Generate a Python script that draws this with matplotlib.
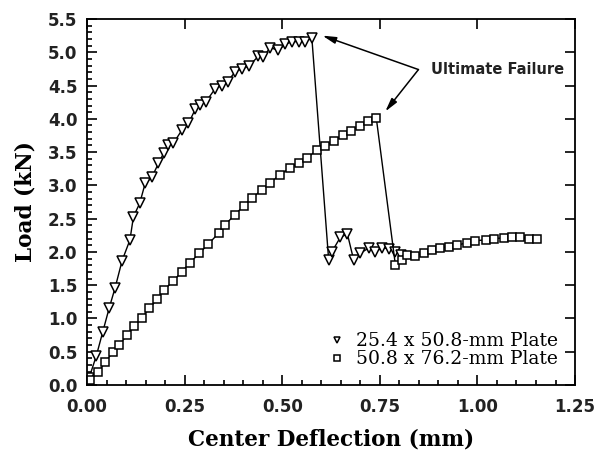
import matplotlib.pyplot as plt
from matplotlib.ticker import MultipleLocator

# 25.4 x 50.8-mm plate
x_tri = [0.005, 0.024, 0.040, 0.057, 0.072, 0.090, 0.110, 0.119, 0.135, 0.149,
         0.166, 0.183, 0.196, 0.208, 0.221, 0.243, 0.260, 0.277, 0.290, 0.305,
         0.328, 0.345, 0.360, 0.380, 0.397, 0.414, 0.439, 0.452, 0.469, 0.490,
         0.508, 0.525, 0.542, 0.559, 0.576, 0.619, 0.627, 0.649, 0.667, 0.683,
         0.700, 0.722, 0.738, 0.756, 0.773, 0.790, 0.803]
y_tri = [0.10, 0.44, 0.79, 1.16, 1.46, 1.87, 2.18, 2.53, 2.73, 3.03,
         3.12, 3.33, 3.48, 3.61, 3.63, 3.83, 3.93, 4.14, 4.21, 4.26,
         4.45, 4.50, 4.56, 4.71, 4.75, 4.79, 4.94, 4.93, 5.07, 5.03,
         5.12, 5.16, 5.16, 5.16, 5.21, 1.88, 2.00, 2.22, 2.27, 1.88,
         1.98, 2.06, 2.00, 2.06, 2.05, 2.00, 1.96]

# 50.8 x 76.2-mm plate
x_sq = [0.008, 0.029, 0.046, 0.066, 0.083, 0.102, 0.121, 0.140, 0.160, 0.179,
        0.198, 0.220, 0.243, 0.264, 0.288, 0.311, 0.337, 0.354, 0.379, 0.401,
        0.422, 0.448, 0.469, 0.495, 0.519, 0.542, 0.563, 0.589, 0.610, 0.633,
        0.656, 0.676, 0.698, 0.720, 0.741, 0.790, 0.807, 0.820, 0.841, 0.863,
        0.884, 0.905, 0.927, 0.948, 0.974, 0.995, 1.021, 1.042, 1.067, 1.089,
        1.110, 1.132, 1.153]
y_sq = [0.08, 0.19, 0.34, 0.49, 0.60, 0.75, 0.88, 1.01, 1.15, 1.29,
        1.43, 1.56, 1.70, 1.84, 1.98, 2.12, 2.28, 2.41, 2.56, 2.69,
        2.81, 2.93, 3.04, 3.16, 3.26, 3.34, 3.41, 3.53, 3.59, 3.67,
        3.76, 3.82, 3.89, 3.96, 4.01, 1.80, 1.88, 1.95, 1.94, 1.99,
        2.03, 2.06, 2.08, 2.10, 2.14, 2.17, 2.18, 2.20, 2.21, 2.22,
        2.23, 2.19, 2.20]

fig = plt.figure(figsize=(5.97, 4.51), dpi=100)
ax = fig.add_axes([0.1457, 0.1463, 0.8175, 0.8116])

ax.plot(x_tri, y_tri, color="black", lw=1.0, marker="v", ms=6.5,
        mfc="white", mec="black", mew=1.1, label="25.4 x 50.8-mm Plate")
ax.plot(x_sq, y_sq, color="black", lw=1.0, marker="s", ms=6,
        mfc="white", mec="black", mew=1.1, label="50.8 x 76.2-mm Plate")

ax.set_xlim(0, 1.25)
ax.set_ylim(0, 5.5)
ax.xaxis.set_major_locator(MultipleLocator(0.25))
ax.xaxis.set_minor_locator(MultipleLocator(0.05))
ax.yaxis.set_major_locator(MultipleLocator(0.5))
ax.yaxis.set_minor_locator(MultipleLocator(0.1))
ax.xaxis.set_major_formatter(plt.FormatStrFormatter("%.2f"))
ax.yaxis.set_major_formatter(plt.FormatStrFormatter("%.1f"))
ax.tick_params(which="both", direction="in", top=True, right=True,
               width=1.2, labelsize=12)
ax.tick_params(axis="x", pad=9)
ax.tick_params(axis="y", pad=7)
ax.tick_params(which="major", length=7)
ax.tick_params(which="minor", length=3.5, top=False, right=False)
for lab in ax.get_xticklabels() + ax.get_yticklabels():
    lab.set_fontweight("bold")
    lab.set_color("#222222")
for s in ax.spines.values():
    s.set_linewidth(1.3)

ax.set_xlabel("Center Deflection (mm)", family="DejaVu Serif",
              fontweight="bold", fontsize=15.5, labelpad=9)
ax.set_ylabel("Load (kN)", family="DejaVu Serif",
              fontweight="bold", fontsize=15.5, labelpad=8)

# annotation arrows
arrow = dict(arrowstyle="-|>,head_length=0.8,head_width=0.2", color="black",
             lw=1.1, shrinkA=0, shrinkB=0)
ax.annotate("", xy=(0.603, 5.25), xytext=(0.849, 4.74), arrowprops=arrow)
ax.annotate("", xy=(0.764, 4.11), xytext=(0.849, 4.74), arrowprops=arrow)
ax.text(0.88, 4.74, "Ultimate Failure", fontsize=10.5, fontweight="bold",
        va="center", ha="left", color="#222222")

leg = ax.legend(loc="lower right", frameon=False, prop={"family": "DejaVu Serif", "size": 13.5},
                handlelength=1.0, handletextpad=0.5, labelspacing=0.0,
                borderaxespad=0.5, markerscale=0.75)
for h in leg.legend_handles:
    h.set_linestyle("none")

fig.savefig("out.png", dpi=100)
